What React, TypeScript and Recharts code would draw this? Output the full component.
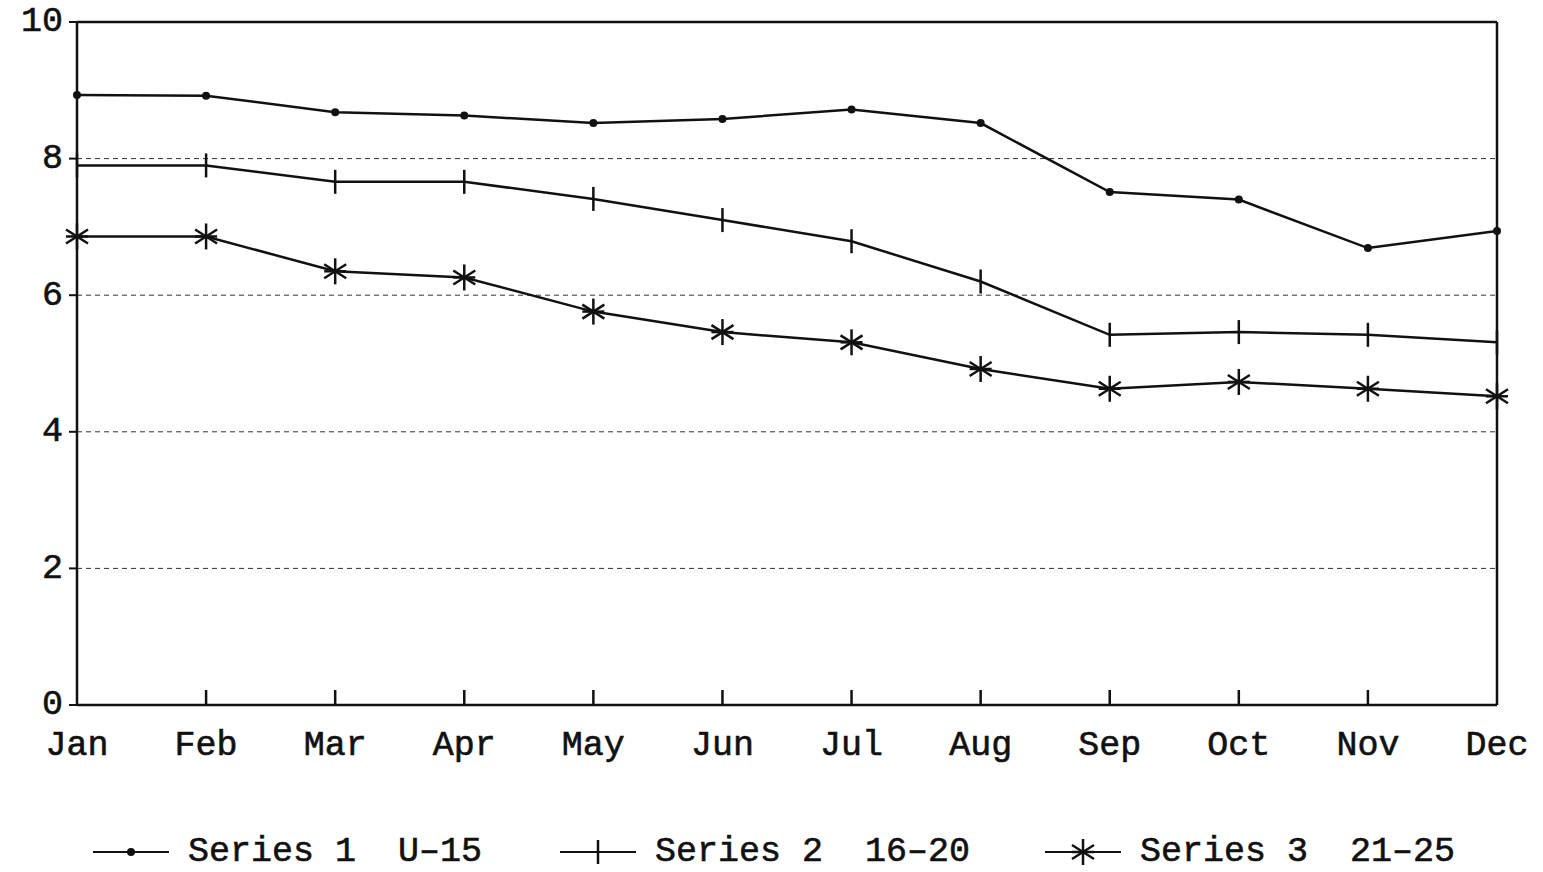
import React from 'react';
import { LineChart, Line, XAxis, YAxis, CartesianGrid, ReferenceLine, Legend } from 'recharts';

const months = ['Jan', 'Feb', 'Mar', 'Apr', 'May', 'Jun', 'Jul', 'Aug', 'Sep', 'Oct', 'Nov', 'Dec'];
const series1 = [8.93, 8.92, 8.68, 8.63, 8.52, 8.58, 8.72, 8.52, 7.51, 7.4, 6.69, 6.94];
const series2 = [7.9, 7.9, 7.66, 7.66, 7.41, 7.1, 6.79, 6.2, 5.42, 5.46, 5.42, 5.31];
const series3 = [6.86, 6.86, 6.35, 6.26, 5.76, 5.46, 5.31, 4.92, 4.63, 4.73, 4.63, 4.52];
const yTicks = [0, 2, 4, 6, 8, 10];
const seriesNames = ['Series 1  U–15', 'Series 2  16–20', 'Series 3  21–25'];

const data = months.map((m, i) => ({ month: m, s1: series1[i], s2: series2[i], s3: series3[i] }));

const FONT = '"Liberation Mono", "DejaVu Sans Mono", monospace';
const INK = '#111';

// markers
const DotMark = ({ cx, cy }: any) => <circle cx={cx} cy={cy} r={4} fill={INK} />;

const PlusMark = ({ cx, cy }: any) => (
  <line x1={cx} y1={cy - 12} x2={cx} y2={cy + 12} stroke={INK} strokeWidth={2.5} />
);

const StarMark = ({ cx, cy }: any) => (
  <g stroke={INK} strokeWidth={2.5}>
    <line x1={cx} y1={cy - 13} x2={cx} y2={cy + 13} />
    <line x1={cx - 11} y1={cy - 7} x2={cx + 11} y2={cy + 7} />
    <line x1={cx - 11} y1={cy + 7} x2={cx + 11} y2={cy - 7} />
    <line x1={cx - 11} y1={cy} x2={cx + 11} y2={cy} />
  </g>
);

const markers: Record<string, any> = { s1: DotMark, s2: PlusMark, s3: StarMark };

const MonthTick = (props: any) => {
  const { x, y, payload, index } = props;
  return (
    <g>
      {index > 0 && index < months.length - 1 && (
        <line x1={x} y1={y} x2={x} y2={y - 15} stroke={INK} strokeWidth={2.5} />
      )}
      <text x={x} y={y + 50} textAnchor="middle" fontFamily={FONT} fontSize={35} fill={INK} stroke={INK} strokeWidth={0.6}>
        {payload.value}
      </text>
    </g>
  );
};

const legendLeft = [93, 560, 1045];

const renderLegend = (props: any) => {
  const { payload } = props;
  return (
    <div style={{ position: 'relative', height: 40, width: 1543 }}>
      {(payload || []).map((entry: any, i: number) => {
        const Mark = markers[entry.dataKey];
        return (
          <div
            key={entry.dataKey}
            style={{ position: 'absolute', left: legendLeft[i], top: 0, height: 40, display: 'flex', alignItems: 'center' }}
          >
            <svg width={76} height={40}>
              <line x1={0} y1={20} x2={76} y2={20} stroke={INK} strokeWidth={2} />
              <Mark cx={38} cy={20} />
            </svg>
            <span
              style={{
                marginLeft: 19,
                fontFamily: FONT,
                fontSize: 35,
                color: INK,
                whiteSpace: 'pre',
                WebkitTextStroke: '0.6px #111',
              }}
            >
              {entry.value}
            </span>
          </div>
        );
      })}
    </div>
  );
};

const App: React.FC = () => {
  return (
    <div style={{ position: 'absolute', left: 0, top: 0, width: 1543, height: 872, background: '#fff' }}>
      <LineChart width={1543} height={872} data={data} margin={{ top: 22, right: 46, left: 0, bottom: 0 }}>
        <CartesianGrid vertical={false} stroke="#333" strokeDasharray="5 4" strokeWidth={1} />
        <XAxis
          dataKey="month"
          scale="point"
          padding={{ left: 0, right: 0 }}
          height={127}
          tickLine={false}
          tickSize={0}
          tickMargin={0}
          interval={0}
          axisLine={{ stroke: INK, strokeWidth: 2.5 }}
          tick={<MonthTick />}
        />
        <YAxis
          domain={[0, 10]}
          ticks={yTicks}
          width={77}
          interval={0}
          axisLine={{ stroke: INK, strokeWidth: 2.5 }}
          tickLine={{ stroke: INK, strokeWidth: 2 }}
          tickSize={8}
          tickMargin={6}
          tick={{ fontFamily: FONT, fontSize: 35, fill: INK, stroke: INK, strokeWidth: 0.6, dy: -3 }}
        />
        <ReferenceLine y={10} stroke={INK} strokeWidth={2.5} />
        <ReferenceLine x="Dec" stroke={INK} strokeWidth={2.5} />
        <Legend verticalAlign="bottom" height={40} content={renderLegend} />
        <Line dataKey="s1" name={seriesNames[0]} stroke={INK} strokeWidth={2.5} dot={<DotMark />} activeDot={false} isAnimationActive={false} />
        <Line dataKey="s2" name={seriesNames[1]} stroke={INK} strokeWidth={2.5} dot={<PlusMark />} activeDot={false} isAnimationActive={false} />
        <Line dataKey="s3" name={seriesNames[2]} stroke={INK} strokeWidth={2.5} dot={<StarMark />} activeDot={false} isAnimationActive={false} />
      </LineChart>
    </div>
  );
};

export default App;
